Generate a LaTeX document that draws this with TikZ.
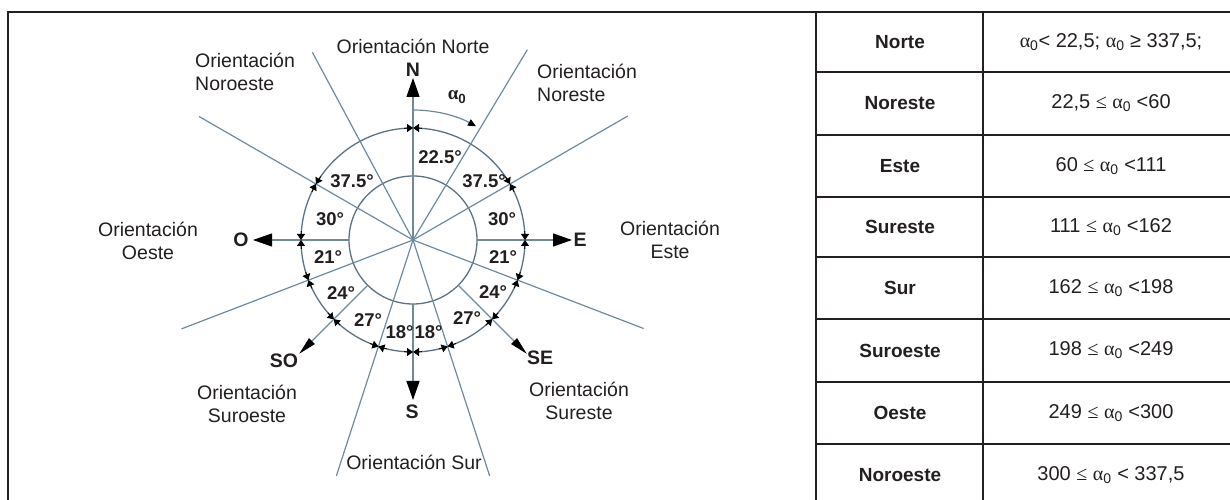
\documentclass[tikz,border=0pt]{standalone}
\usepackage{fontspec}
\setmainfont{Liberation Sans}
\newfontfamily\grk{Liberation Serif}
\usetikzlibrary{arrows.meta,calc}
\definecolor{txt}{HTML}{231F20}
\definecolor{gl}{HTML}{6F8A9C}
\definecolor{cl}{HTML}{5C7282}
\newcommand{\azero}{{\grk α}\textsubscript{0}}
\newcommand{\lesym}{{\grk ≤}}
\begin{document}
\begin{tikzpicture}[x=1pt,y=1pt,
  every node/.style={inner sep=0pt, font=\fontsize{19.5}{23}\selectfont, text=txt},
  frame/.style={line width=2.4pt, draw=txt},
  gline/.style={line width=1.2pt, draw=gl},
  circ/.style={line width=1.3pt, draw=cl},
  bigtip/.style={-{Triangle[length=19pt,width=13pt,color=black]}},
  diagtip/.style={-{Triangle[length=18pt,width=8pt,color=black]}},
  tk/.style={line width=0.9pt, draw=black, -{Triangle[length=6pt,width=8pt,color=black]}},
  deg/.style={font=\bfseries\fontsize{18.5}{22}\selectfont},
  letter/.style={font=\bfseries\fontsize{19.5}{22}\selectfont},
  orient/.style={align=center},
  rowname/.style={font=\bfseries\fontsize{19}{22}\selectfont},
  rowval/.style={font=\fontsize{20}{22}\selectfont}]
\useasboundingbox (0,0) rectangle (1230,500);
% frame and table grid
\draw[frame] (8,-10) -- (8,488) -- (1240,488);
\draw[frame] (816,-10) -- (816,488);
\draw[frame] (983,-10) -- (983,488);
\foreach \y in {428,365,303,243,181,118,56} \draw[frame] (816,\y) -- (1240,\y);
% table text
\foreach \n/\y/\a/\b in {r1/458/Norte/{\azero< 22,5; \azero{} ≥ 337,5;},
  r2/396.5/Noreste/{22,5 \lesym{} \azero{} <60},
  r3/334/Este/{60 \lesym{} \azero{} <111},
  r4/273/Sureste/{111 \lesym{} \azero{} <162},
  r5/212/Sur/{162 \lesym{} \azero{} <198},
  r6/149.5/Suroeste/{198 \lesym{} \azero{} <249},
  r7/87/Oeste/{249 \lesym{} \azero{} <300},
  r8/25/Noroeste/{300 \lesym{} \azero{} < 337,5}}
{
  \node[rowname] (\n a) at (900,\y) {\a};
  \node[rowval] (\n b) at (1111,\y) {\b};
}
% compass
\coordinate (C) at (413,260);
\draw[circ] (C) circle[radius=112];
\draw[circ] (C) circle[radius=64];
\foreach \b/\r in {31/222, 60/248, 111/247, 162/248, 198/248, 249/248, 300/247, 331.8/213}
  \draw[gline] (C) -- ++({90-\b}:\r);
% main direction arrows
\coordinate (Ntip) at (413,422);
\coordinate (Etip) at (572,260);
\coordinate (Wtip) at (253,260);
\coordinate (Stip) at (413,100);
\coordinate (SEtip) at ($(C)+(-45:161)$);
\coordinate (SWtip) at ($(C)+(-135:161)$);
\coordinate (Ein) at (477,260);
\coordinate (Win) at (349,260);
\coordinate (Sin) at (413,196);
\coordinate (SEin) at ($(C)+(-45:64)$);
\coordinate (SWin) at ($(C)+(-135:64)$);
\draw[gline,bigtip] (C) -- (Ntip);
\draw[gline,bigtip] (Ein) -- (Etip);
\draw[gline,bigtip] (Win) -- (Wtip);
\draw[gline,bigtip] (Sin) -- (Stip);
\draw[gline,diagtip] (SEin) -- (SEtip);
\draw[gline,diagtip] (SWin) -- (SWtip);
% ticks on the outer circle
\foreach \b in {0,60,90,111,135,162,180,198,225,249,270,300}{
  \pgfmathsetmacro{\a}{90-\b}
  \pgfmathsetmacro{\ap}{\a+4.5}
  \pgfmathsetmacro{\am}{\a-4.5}
  \draw[tk] (C) ++(\ap:112) arc[start angle=\ap, end angle=\a, radius=112];
  \draw[tk] (C) ++(\am:112) arc[start angle=\am, end angle=\a, radius=112];
}
% alpha arc
\draw[gline,-{Triangle[length=8pt,width=7pt,color=black]}] (C) ++(90:130) arc[start angle=90, end angle=61, radius=130];
\node[font=\bfseries\fontsize{19}{22}\selectfont] (alpha) at (457,403) {\azero};
% degree labels
\node[deg] (d1) at (440,343) {22.5°};
\node[deg] (d2) at (352,319) {37.5°};
\node[deg] (d3) at (484,319) {37.5°};
\node[deg] (d4) at (330,281) {30°};
\node[deg] (d5) at (502,281) {30°};
\node[deg] (d6) at (328,243) {21°};
\node[deg] (d7) at (503,243) {21°};
\node[deg] (d8) at (341,207) {24°};
\node[deg] (d9) at (493,208) {24°};
\node[deg] (d10) at (368,180) {27°};
\node[deg] (d11) at (467,182) {27°};
\node[deg] (d12) at (399.5,168) {18°};
\node[deg] (d13) at (428.5,168) {18°};
% letters
\node[letter] (lN) at (413,430) {N};
\node[letter] (lE) at (580,260) {E};
\node[letter] (lO) at (241,260) {O};
\node[letter] (lS) at (412,88) {S};
\node[letter] (lSE) at (540,142) {SE};
\node[letter] (lSO) at (284,139) {SO};
% orientation labels
\node[orient] (oN) at (413,454) {Orientación Norte};
\node[align=left, anchor=west] (oNO) at (195,428) {Orientación\\Noroeste};
\node[align=left, anchor=west] (oNE) at (537,417.5) {Orientación\\Noreste};
\node[orient] (oO) at (148,259.5) {Orientación\\Oeste};
\node[orient] (oE) at (670,260) {Orientación\\Este};
\node[orient] (oSO) at (247,96.5) {Orientación\\Suroeste};
\node[orient] (oSE) at (579,99) {Orientación\\Sureste};
\node[orient] (oS) at (414,38) {Orientación Sur};
\end{tikzpicture}
\end{document}
